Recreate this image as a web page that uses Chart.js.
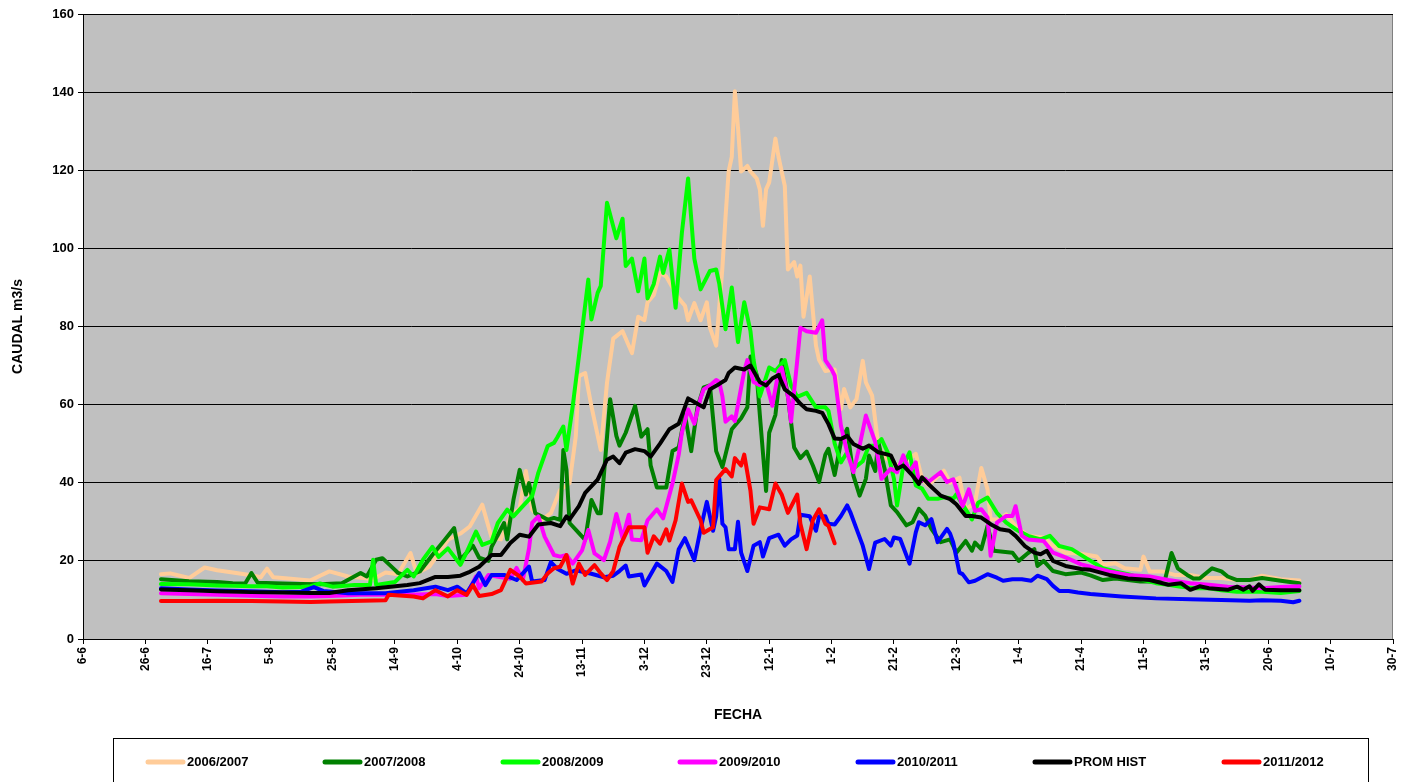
<!DOCTYPE html>
<html>
<head>
<meta charset="utf-8">
<title>Caudal</title>
<script src="https://cdn.jsdelivr.net/npm/chart.js@4.4.1/dist/chart.umd.min.js"></script>
<style>
  body { margin: 0; background: #fff; }
  canvas { display: block; }
</style>
</head>
<body>
<canvas id="ctx" width="1418" height="782"></canvas>
<script>
"use strict";

// x axis = days counted from 6-6, one label every 20 days
const tickLabels = ["6-6", "26-6", "16-7", "5-8", "25-8", "14-9", "4-10", "24-10", "13-11", "3-12", "23-12",
  "12-1", "1-2", "21-2", "12-3", "1-4", "21-4", "11-5", "31-5", "20-6", "10-7", "30-7"];

const seriesNames = ["2006/2007", "2007/2008", "2008/2009", "2009/2010", "2010/2011", "PROM HIST", "2011/2012"];
const seriesColors = ["#FFCC99", "#008000", "#00FF00", "#FF00FF", "#0000FF", "#000000", "#FF0000"];

// [day, caudal m3/s]
const s0607 = [[25,16.6],[28,16.8],[34,15.6],[39,18.3],[43,17.6],[48,17.0],[54,16.3],[57,15.8],[59,18.0],[61,15.8],[64,15.6],[70,15.2],[73,15.0],[76,16.2],[79,17.3],[85,16.0],[90,15.6],[93,15.3],[97,17.0],[101,16.6],[105,22.0],[107,16.8],[111,18.5],[117,25.4],[121,27.0],[124,28.8],[128,34.4],[131,26.0],[134,25.5],[137,31.4],[140,33.5],[142,43.0],[144,33.1],[147,30.5],[150,32.2],[153,38.2],[156,39.9],[158,51.9],[159,67.3],[161,68.1],[163,59.6],[166,48.4],[168,65.6],[170,76.9],[173,78.8],[176,73.2],[178,82.5],[180,81.6],[181,86.2],[183,88.1],[185,93.7],[187,92.8],[189,90.0],[191,87.2],[193,85.3],[194,81.6],[196,86.0],[198,81.6],[200,86.2],[201,79.7],[203,75.1],[205,95.0],[206,108.0],[207,119.7],[208,123.4],[209,140.2],[210,130.9],[211,119.7],[213,121.1],[214,119.7],[216,117.9],[217,115.1],[218,105.8],[219,115.1],[220,116.9],[222,128.1],[223,123.4],[225,116.0],[226,94.6],[228,96.5],[229,92.8],[230,95.6],[231,82.5],[233,92.8],[235,75.1],[236,71.4],[238,68.6],[241,69.0],[243,58.9],[244,64.0],[246,59.3],[248,61.4],[250,71.2],[251,65.7],[253,62.3],[255,49.5],[257,46.5],[261,44.4],[265,46.0],[267,47.4],[269,41.0],[271,39.3],[276,43.1],[278,40.0],[281,41.3],[283,33.2],[286,34.9],[288,43.8],[290,38.3],[291,30.6],[294,30.6],[296,31.9],[299,28.9],[303,26.4],[308,26.0],[311,23.8],[315,22.1],[320,21.8],[325,21.1],[327,19.0],[331,19.4],[334,18.1],[339,17.7],[340,21.1],[342,17.3],[346,17.3],[350,16.4],[355,16.4],[360,15.6],[365,15.6],[370,15.1],[374,15.1],[378,16.2],[384,15.3],[390,15.0]];

const s0708 = [[25,15.3],[34,14.8],[43,14.6],[48,14.3],[52,14.2],[54,16.9],[56,14.4],[64,14.2],[70,14.1],[76,14.0],[83,14.3],[89,16.9],[91,16.0],[94,20.3],[96,20.7],[100,17.7],[101,16.9],[104,16.0],[108,17.3],[112,21.5],[116,25.4],[119,28.4],[121,20.3],[125,23.9],[127,20.8],[130,20.0],[131,23.6],[135,29.7],[136,25.5],[138,35.6],[140,43.3],[142,37.0],[143,39.9],[145,32.2],[147,31.4],[149,30.5],[151,31.0],[153,30.5],[154,48.4],[155,43.3],[156,29.7],[159,27.1],[161,25.4],[163,35.6],[165,32.2],[166,32.2],[169,61.4],[171,52.0],[172,49.5],[174,52.8],[177,59.7],[179,51.8],[181,53.7],[182,44.4],[184,38.8],[187,38.8],[189,48.1],[191,49.0],[193,57.4],[195,48.1],[197,59.3],[199,64.4],[201,64.9],[203,48.1],[205,44.0],[208,53.7],[211,56.5],[213,59.3],[214,72.3],[216,67.6],[217,57.4],[219,37.9],[220,52.8],[222,57.4],[224,71.4],[226,62.1],[228,49.0],[230,46.3],[232,48.0],[234,44.4],[236,40.2],[238,47.2],[239,48.7],[241,42.0],[243,50.4],[245,53.8],[247,41.8],[249,36.7],[251,41.0],[252,47.0],[254,43.0],[255,50.4],[257,43.6],[259,34.2],[261,32.5],[264,29.1],[266,29.9],[268,33.3],[270,31.6],[272,28.2],[275,24.8],[278,25.5],[280,22.1],[283,25.1],[285,22.6],[286,24.7],[288,23.0],[290,28.9],[292,22.6],[298,22.1],[300,20.0],[303,22.0],[305,23.0],[306,18.7],[308,20.0],[311,17.4],[315,16.6],[320,17.0],[323,16.3],[327,15.1],[331,15.5],[335,15.1],[339,14.7],[344,14.7],[347,15.5],[349,22.0],[351,18.1],[354,16.4],[356,15.5],[358,15.5],[362,18.1],[365,17.3],[367,16.0],[370,15.1],[374,15.1],[378,15.6],[384,14.9],[390,14.3]];

const s0809 = [[25,14.1],[34,14.0],[43,13.7],[48,13.6],[54,13.5],[59,13.5],[64,13.2],[70,13.3],[73,13.5],[76,14.2],[80,13.4],[87,13.8],[92,13.8],[93,20.3],[94,13.8],[100,14.6],[104,17.7],[106,16.0],[109,20.3],[112,23.6],[114,21.0],[117,23.2],[121,19.0],[123,22.2],[126,27.5],[128,24.1],[131,25.0],[133,29.7],[136,33.1],[138,31.4],[141,34.0],[144,36.6],[146,42.6],[149,49.4],[151,50.2],[152,51.5],[154,54.4],[155,48.4],[157,59.6],[159,72.4],[162,92.0],[163,81.8],[165,88.6],[166,90.4],[168,111.7],[171,102.6],[173,107.6],[174,95.5],[176,97.4],[178,89.0],[180,97.4],[181,87.2],[183,90.9],[185,97.9],[186,93.7],[188,99.7],[190,84.8],[192,103.9],[194,117.9],[196,97.4],[198,89.5],[201,94.2],[203,94.6],[204,90.9],[206,79.3],[208,90.0],[210,76.0],[212,86.2],[214,78.8],[215,71.4],[217,62.1],[220,69.5],[222,68.6],[225,71.4],[227,64.9],[229,62.0],[232,63.0],[235,59.3],[238,59.3],[239,58.4],[241,50.0],[243,45.2],[245,47.8],[247,43.6],[250,45.5],[252,49.5],[254,49.5],[256,51.2],[258,47.8],[260,41.0],[261,34.2],[263,44.4],[265,47.8],[267,39.3],[269,38.5],[271,35.9],[274,35.9],[276,36.3],[279,35.9],[280,37.0],[283,33.2],[285,30.6],[287,34.9],[290,36.2],[293,32.3],[296,29.8],[299,28.1],[303,26.4],[307,25.5],[310,26.4],[313,23.8],[317,23.0],[322,20.5],[327,18.1],[331,17.3],[336,16.4],[340,15.1],[344,14.3],[348,13.9],[352,13.4],[357,13.0],[361,13.0],[365,12.5],[370,12.1],[374,12.1],[378,12.1],[384,11.8],[390,12.3]];

const s0910 = [[25,11.7],[34,11.5],[43,11.3],[54,11.1],[64,10.9],[73,10.9],[79,11.0],[89,11.3],[104,11.3],[113,11.5],[117,11.0],[123,11.3],[126,16.0],[127,13.0],[130,16.4],[134,15.8],[137,15.4],[139,18.2],[141,15.1],[143,23.2],[144,29.7],[146,31.4],[148,26.2],[151,21.5],[153,21.1],[155,21.5],[157,19.3],[160,22.7],[162,27.9],[164,21.9],[167,20.2],[169,24.9],[171,32.0],[173,25.8],[175,31.8],[176,25.5],[179,25.3],[181,30.4],[184,33.2],[186,30.9],[189,39.8],[191,47.2],[192,52.8],[194,58.8],[196,55.1],[198,61.6],[199,63.9],[201,64.9],[203,66.3],[204,65.8],[205,62.1],[206,55.6],[208,57.0],[209,55.8],[212,68.6],[213,71.4],[215,65.8],[217,65.0],[219,65.8],[221,59.7],[223,68.6],[224,69.5],[226,62.1],[227,55.6],[229,71.4],[230,79.7],[232,78.8],[235,78.4],[237,81.6],[238,71.4],[240,69.0],[241,67.4],[243,54.6],[245,47.8],[247,42.7],[249,49.5],[251,57.2],[254,50.4],[256,41.0],[259,43.6],[261,42.7],[263,47.0],[265,42.7],[267,45.2],[268,40.2],[270,41.0],[271,40.2],[275,42.7],[277,40.2],[279,40.9],[282,34.0],[284,38.3],[286,32.8],[288,33.2],[290,31.1],[291,21.3],[293,29.8],[296,31.5],[298,31.5],[299,34.0],[301,26.4],[303,25.5],[308,25.1],[311,22.1],[315,20.9],[320,19.1],[323,18.5],[329,17.3],[335,16.4],[342,16.0],[348,15.1],[355,14.3],[361,13.9],[367,13.4],[374,13.2],[378,13.0],[384,13.3],[390,13.5]];

const s1011 = [[25,13.0],[34,12.7],[43,12.4],[54,12.2],[64,12.0],[70,12.1],[74,13.3],[77,12.3],[85,11.7],[97,11.7],[106,12.5],[113,13.4],[117,12.5],[120,13.4],[123,11.7],[127,16.9],[129,13.8],[131,16.4],[135,16.4],[139,15.1],[143,18.5],[144,14.7],[148,15.1],[150,19.7],[152,18.0],[155,16.7],[158,17.6],[163,16.7],[167,15.8],[170,16.2],[172,17.4],[174,18.8],[175,16.0],[179,16.5],[180,13.7],[184,19.3],[187,17.4],[189,14.6],[191,23.0],[193,25.8],[196,20.2],[198,28.1],[200,35.1],[202,27.7],[203,31.4],[204,41.0],[205,29.5],[206,28.6],[207,23.0],[209,23.0],[210,30.0],[211,22.1],[213,17.4],[215,23.9],[217,24.8],[218,21.1],[220,25.8],[223,26.7],[225,23.9],[227,25.5],[229,26.5],[230,31.8],[233,31.4],[235,27.7],[236,31.4],[238,31.4],[239,29.5],[241,29.3],[243,31.5],[245,34.2],[246,32.5],[248,28.2],[250,23.9],[252,17.9],[254,24.7],[257,25.6],[259,23.9],[260,26.0],[262,25.6],[265,19.3],[267,27.3],[268,29.9],[270,29.1],[272,30.7],[274,24.8],[277,28.2],[278,27.0],[279,24.7],[281,17.0],[282,16.6],[284,14.5],[286,14.9],[290,16.6],[293,15.7],[295,14.9],[298,15.3],[301,15.3],[304,14.9],[306,16.2],[309,15.3],[311,13.6],[313,12.3],[316,12.3],[319,11.9],[323,11.5],[333,10.9],[344,10.4],[355,10.2],[365,10.0],[374,9.8],[378,9.9],[384,9.8],[388,9.4],[390,9.8]];

const sProm = [[25,12.7],[34,12.5],[43,12.2],[54,12.0],[64,11.9],[73,11.8],[79,11.8],[85,12.5],[94,13.0],[104,13.8],[108,14.3],[113,15.9],[117,15.9],[121,16.2],[124,17.2],[127,18.5],[131,21.5],[134,21.5],[137,24.6],[140,26.7],[143,26.2],[146,29.3],[150,29.7],[153,28.9],[155,31.4],[156,30.6],[159,34.0],[161,37.4],[165,40.8],[168,45.9],[170,46.7],[172,45.0],[174,47.7],[177,48.6],[180,48.1],[182,46.7],[185,50.0],[188,53.7],[191,55.1],[194,61.6],[196,60.7],[199,59.3],[201,63.9],[204,65.3],[206,66.3],[207,68.1],[209,69.5],[212,69.0],[214,70.0],[217,65.8],[219,64.9],[221,66.7],[223,67.6],[225,63.9],[228,62.1],[230,60.2],[232,58.8],[235,58.4],[237,57.9],[239,55.0],[241,51.3],[243,51.2],[245,52.0],[247,49.9],[250,48.7],[252,49.5],[255,47.8],[259,47.0],[261,43.6],[263,44.4],[266,41.8],[268,39.7],[269,41.4],[271,39.7],[275,36.7],[278,35.8],[280,34.5],[283,31.5],[285,31.5],[288,31.1],[291,29.4],[294,28.1],[297,27.7],[299,26.4],[302,23.8],[305,22.1],[307,21.7],[309,22.6],[311,20.0],[315,18.7],[320,17.9],[323,17.7],[329,16.4],[335,15.5],[342,15.1],[348,13.9],[352,14.3],[355,12.6],[358,13.5],[361,13.0],[367,12.6],[370,13.4],[372,12.6],[374,13.5],[375,12.3],[377,14.0],[379,12.6],[384,12.5],[390,12.5]];

const s1112 = [[25,9.7],[34,9.7],[43,9.8],[54,9.7],[64,9.6],[73,9.5],[79,9.6],[97,9.9],[98,11.3],[106,10.9],[109,10.4],[113,12.5],[117,10.9],[120,12.5],[123,11.3],[125,13.8],[127,11.0],[131,11.5],[134,12.5],[137,17.7],[140,16.0],[142,14.2],[147,14.7],[149,16.8],[151,18.1],[153,18.5],[155,21.5],[157,14.2],[159,19.3],[161,16.4],[164,18.9],[166,16.8],[168,15.1],[170,17.4],[172,23.5],[175,28.6],[180,28.6],[181,22.1],[183,26.3],[185,24.4],[187,28.1],[188,25.2],[190,30.4],[192,39.8],[194,35.1],[195,35.5],[198,30.4],[199,27.2],[202,28.6],[203,40.7],[206,43.5],[208,41.6],[209,46.3],[211,44.4],[212,47.2],[214,37.9],[215,29.5],[217,33.7],[220,33.2],[222,39.8],[224,37.0],[226,32.3],[229,37.0],[230,29.5],[232,23.0],[234,30.4],[236,33.2],[238,29.5],[239,29.0],[241,24.5]];

const allSeries = [s0607, s0708, s0809, s0910, s1011, sProm, s1112];

const fontFamily = "'Liberation Sans', Arial, sans-serif";
Chart.defaults.font.family = fontFamily;
Chart.defaults.color = "#000";

// legend line samples start here (px)
const legendX = [146, 323, 501, 678, 856, 1033, 1222];

const plotBg = {
  id: "plotBg",
  beforeDraw(chart) {
    const { ctx, chartArea: a } = chart;
    ctx.save();
    ctx.fillStyle = "#C0C0C0";
    ctx.fillRect(a.left, a.top, a.right - a.left, a.bottom - a.top);
    ctx.strokeStyle = "#808080";
    ctx.lineWidth = 1;
    ctx.strokeRect(a.left + 0.5, a.top + 0.5, a.right - a.left - 1, a.bottom - a.top);
    ctx.restore();
  }
};

const boxLegend = {
  id: "boxLegend",
  afterDraw(chart) {
    const ctx = chart.ctx;
    ctx.save();
    ctx.strokeStyle = "#000";
    ctx.lineWidth = 1;
    ctx.strokeRect(113.5, 738.5, 1255, 60);
    ctx.font = "bold 13px " + fontFamily;
    ctx.textBaseline = "middle";
    chart.data.datasets.forEach((ds, i) => {
      const x = legendX[i];
      ctx.strokeStyle = ds.borderColor;
      ctx.lineWidth = 5;
      ctx.lineCap = "round";
      ctx.beginPath();
      ctx.moveTo(x + 2, 762);
      ctx.lineTo(x + 37, 762);
      ctx.stroke();
      ctx.fillStyle = "#000";
      ctx.fillText(ds.label, x + 41, 762);
    });
    ctx.restore();
  }
};

let datasets = allSeries.map((s, i) => ({
  label: seriesNames[i],
  data: s.map((p) => ({ x: p[0], y: p[1] })),
  borderColor: seriesColors[i],
  backgroundColor: seriesColors[i],
  borderWidth: 4,
  pointRadius: 0,
  tension: 0,
  borderJoinStyle: "round",
  borderCapStyle: "round",
  order: allSeries.length - 1 - i
}));

let ctx = document.getElementById("ctx").getContext("2d");
const myChart = new Chart(ctx, {
  type: "line",
  data: { datasets: datasets },
  plugins: [plotBg, boxLegend],
  options: {
    responsive: false,
    animation: false,
    layout: { padding: { top: 14, right: 25, left: 0, bottom: 54 } },
    plugins: {
      legend: { display: false },
      tooltip: { enabled: false }
    },
    scales: {
      x: {
        type: "linear",
        min: 0,
        max: 420,
        afterFit: (scale) => { scale.height = 89; },
        grid: { drawOnChartArea: false, drawTicks: true, tickLength: 5, color: "#000" },
        border: { display: true, color: "#000", width: 1 },
        ticks: {
          stepSize: 20,
          autoSkip: false,
          maxRotation: 90,
          minRotation: 90,
          padding: 3,
          font: { size: 12, weight: "bold" },
          callback: (v) => tickLabels[Math.round(v / 20)]
        },
        title: {
          display: true,
          text: "FECHA",
          font: { size: 14, weight: "bold" },
          padding: { top: 0, bottom: 4 }
        }
      },
      y: {
        min: 0,
        max: 160,
        afterFit: (scale) => { scale.width = 83; },
        grid: { color: "#000", lineWidth: 1, tickLength: 5 },
        border: { display: true, color: "#000", width: 1 },
        ticks: {
          stepSize: 20,
          padding: 4,
          font: { size: 13, weight: "bold" }
        },
        title: {
          display: true,
          text: "CAUDAL m3/s",
          font: { size: 14, weight: "bold" },
          padding: { top: 10, bottom: 0 }
        }
      }
    }
  }
});
</script>
</body>
</html>
